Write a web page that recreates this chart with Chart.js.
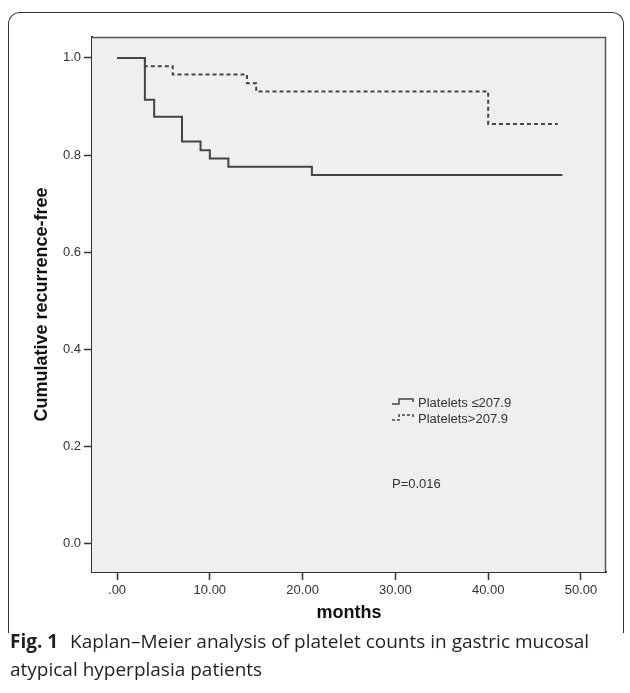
<!DOCTYPE html>
<html>
<head>
<meta charset="utf-8">
<script src="https://cdn.jsdelivr.net/npm/chart.js@4"></script>
<style>
  body { margin: 0; background: #fff; }
  #wrap { position: relative; width: 630px; height: 693px; overflow: hidden; }
  #box {
    position: absolute; left: 8px; top: 12px; width: 614px; height: 620px;
    border: 1px solid #333; border-bottom: none; border-radius: 12px 12px 0 0;
  }
  #chart { position: absolute; left: 0; top: 0; }
  #caption {
    position: absolute; left: 10px; top: 627px; width: 610px;
    font-family: "Open Sans", sans-serif; font-size: 19px; line-height: 28px; color: #231f20;
  }
  #caption b { margin-right: 7px; }
</style>
</head>
<body>
<div id="wrap">
  <div id="box"></div>
  <canvas id="chart" width="630" height="693"></canvas>
  <div id="caption"><b>Fig. 1</b> Kaplan–Meier analysis of platelet counts in gastric mucosal<br>atypical hyperplasia patients</div>
</div>
<script>
// survival curves (months, cumulative recurrence-free)
let lowTimes = [0, 3, 4, 7, 9, 10, 12, 21, 48];
let lowSurv = [1.0, 0.914, 0.879, 0.828, 0.810, 0.793, 0.776, 0.759, 0.759];
let highTimes = [0, 3, 6, 14, 15, 40, 47.5];
let highSurv = [1.0, 0.983, 0.966, 0.948, 0.931, 0.864, 0.864];
let seriesLabels = ["Platelets \u2264207.9", "Platelets>207.9"];
let xTicks = [0, 10, 20, 30, 40, 50];
let xTickLabels = [".00", "10.00", "20.00", "30.00", "40.00", "50.00"];
let yTicks = [0, 0.2, 0.4, 0.6, 0.8, 1.0];
let yTickLabels = ["0.0", "0.2", "0.4", "0.6", "0.8", "1.0"];
let pText = "P=0.016";

const axisFont = { family: "'Liberation Sans', Arial, sans-serif", size: 13 };
const titleFont = { family: "'Liberation Sans', Arial, sans-serif", size: 18, weight: "bold" };
const lineColor = "#444";

function toPoints(xs, ys) {
    return xs.map((x, i) => ({ x: x, y: ys[i] }));
}

// plot background, top/right frame, legend and p-value
const decor = {
    id: "decor",
    beforeDatasetsDraw(chart) {
        const a = chart.chartArea;
        const ctx = chart.ctx;
        ctx.save();
        ctx.fillStyle = "#efefef";
        ctx.fillRect(a.left, a.top, a.right - a.left, a.bottom - a.top);
        ctx.restore();
    },
    afterDraw(chart) {
        const a = chart.chartArea;
        const ctx = chart.ctx;
        ctx.save();
        ctx.strokeStyle = "#555";
        ctx.lineWidth = 1.5;
        ctx.beginPath();
        ctx.moveTo(a.left, a.top + 0.5);
        ctx.lineTo(a.right - 0.5, a.top + 0.5);
        ctx.lineTo(a.right - 0.5, a.bottom);
        ctx.stroke();

        // legend
        const lx = 392, rows = [403, 419];
        ctx.font = "13px 'Liberation Sans', Arial, sans-serif";
        ctx.fillStyle = "#333";
        ctx.textBaseline = "middle";
        rows.forEach((y, i) => {
            ctx.strokeStyle = lineColor;
            ctx.lineWidth = 1.5;
            ctx.setLineDash(i === 0 ? [] : [3, 2]);
            ctx.beginPath();
            ctx.moveTo(lx, y + 1);
            ctx.lineTo(lx + 7, y + 1);
            ctx.lineTo(lx + 7, y - 4);
            ctx.lineTo(lx + 21, y - 4);
            ctx.lineTo(lx + 21, y - 1);
            ctx.stroke();
            ctx.setLineDash([]);
            ctx.fillText(seriesLabels[i], lx + 26, y);
        });
        ctx.fillText(pText, lx, 484);
        ctx.restore();
    }
};

new Chart(document.getElementById("chart"), {
    type: "line",
    data: {
        datasets: [
            {
                label: seriesLabels[1],
                data: toPoints(highTimes, highSurv),
                stepped: "before",
                borderColor: lineColor,
                borderWidth: 2,
                borderDash: [4, 3],
                pointRadius: 0,
                fill: false
            },
            {
                label: seriesLabels[0],
                data: toPoints(lowTimes, lowSurv),
                stepped: "before",
                borderColor: lineColor,
                borderWidth: 2,
                pointRadius: 0,
                fill: false
            }
        ]
    },
    options: {
        responsive: false,
        animation: false,
        layout: { padding: { left: 0, top: 37, right: 24, bottom: 68 } },
        plugins: { legend: { display: false }, tooltip: { enabled: false } },
        scales: {
            x: {
                type: "linear",
                min: -2.7,
                max: 52.7,
                afterBuildTicks: s => { s.ticks = xTicks.map(v => ({ value: v })); },
                afterFit: s => { s.height = 53; },
                ticks: {
                    font: axisFont,
                    color: "#333",
                    padding: 3,
                    maxRotation: 0,
                    callback: (v) => xTickLabels[xTicks.indexOf(v)]
                },
                grid: { drawOnChartArea: false, tickLength: 8, color: "#333", tickWidth: 1.5 },
                border: { color: "#333", width: 2 },
                title: {
                    display: true,
                    text: "months",
                    color: "#111",
                    font: titleFont,
                    padding: { top: 0, bottom: 1 }
                }
            },
            y: {
                min: -0.058,
                max: 1.043,
                afterBuildTicks: s => { s.ticks = yTicks.map(v => ({ value: v })); },
                afterFit: s => { s.width = 92; },
                ticks: {
                    font: axisFont,
                    color: "#333",
                    padding: 3,
                    callback: (v) => yTickLabels[yTicks.indexOf(v)]
                },
                grid: { drawOnChartArea: false, tickLength: 8, color: "#333", tickWidth: 1.5 },
                border: { color: "#333", width: 2 },
                title: {
                    display: true,
                    text: "Cumulative recurrence-free",
                    color: "#111",
                    font: titleFont,
                    padding: { top: 31, bottom: 0 }
                }
            }
        }
    },
    plugins: [decor]
});
</script>
</body>
</html>
